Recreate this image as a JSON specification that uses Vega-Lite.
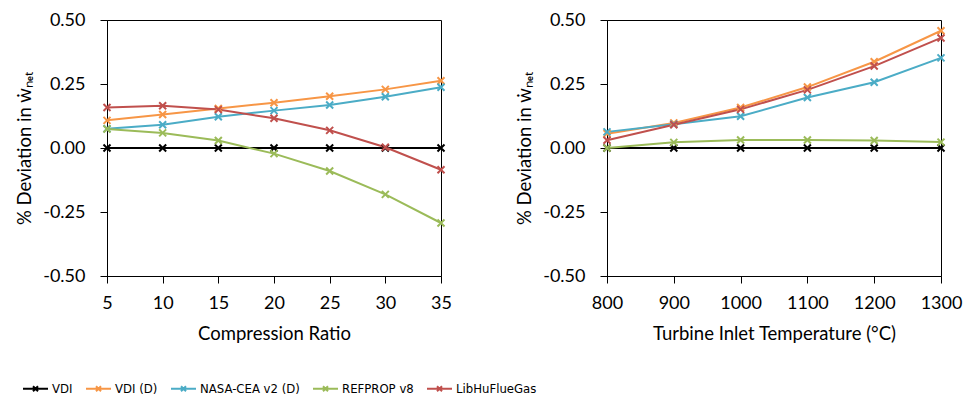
{
  "$schema": "https://vega.github.io/schema/vega-lite/v6.json",
  "padding": {"left": 15, "top": 10, "right": 5, "bottom": 5},
  "background": "white",
  "config": {
    "font": "Lato",
    "view": {"stroke": "#000000", "strokeWidth": 1},
    "axis": {
      "grid": false,
      "domainColor": "#000000",
      "tickColor": "#000000",
      "labelColor": "#000000",
      "titleColor": "#000000",
      "labelFont": "Lato",
      "titleFont": "Lato",
      "labelFontSize": 18,
      "titleFontSize": 18.5,
      "titleFontWeight": "normal",
      "tickSize": 7,
      "labelFlush": false,
      "labelOverlap": false
    },
    "axisX": {"labelPadding": 11, "titlePadding": 12},
    "axisY": {"labelPadding": 15, "titlePadding": 8},
    "legend": {"labelFont": "DejaVu Sans Condensed", "labelFontSize": 13, "labelColor": "#000000"}
  },
  "datasets": {
    "cr": [
      {"x": 5, "series": "VDI", "y": 0}, {"x": 10, "series": "VDI", "y": 0}, {"x": 15, "series": "VDI", "y": 0}, {"x": 20, "series": "VDI", "y": 0}, {"x": 25, "series": "VDI", "y": 0}, {"x": 30, "series": "VDI", "y": 0}, {"x": 35, "series": "VDI", "y": 0},
      {"x": 5, "series": "VDI (D)", "y": 0.108}, {"x": 10, "series": "VDI (D)", "y": 0.131}, {"x": 15, "series": "VDI (D)", "y": 0.154}, {"x": 20, "series": "VDI (D)", "y": 0.177}, {"x": 25, "series": "VDI (D)", "y": 0.202}, {"x": 30, "series": "VDI (D)", "y": 0.229}, {"x": 35, "series": "VDI (D)", "y": 0.263},
      {"x": 5, "series": "NASA-CEA v2 (D)", "y": 0.075}, {"x": 10, "series": "NASA-CEA v2 (D)", "y": 0.091}, {"x": 15, "series": "NASA-CEA v2 (D)", "y": 0.122}, {"x": 20, "series": "NASA-CEA v2 (D)", "y": 0.146}, {"x": 25, "series": "NASA-CEA v2 (D)", "y": 0.168}, {"x": 30, "series": "NASA-CEA v2 (D)", "y": 0.2}, {"x": 35, "series": "NASA-CEA v2 (D)", "y": 0.237},
      {"x": 5, "series": "REFPROP v8", "y": 0.074}, {"x": 10, "series": "REFPROP v8", "y": 0.059}, {"x": 15, "series": "REFPROP v8", "y": 0.029}, {"x": 20, "series": "REFPROP v8", "y": -0.022}, {"x": 25, "series": "REFPROP v8", "y": -0.09}, {"x": 30, "series": "REFPROP v8", "y": -0.181}, {"x": 35, "series": "REFPROP v8", "y": -0.293},
      {"x": 5, "series": "LibHuFlueGas", "y": 0.158}, {"x": 10, "series": "LibHuFlueGas", "y": 0.165}, {"x": 15, "series": "LibHuFlueGas", "y": 0.15}, {"x": 20, "series": "LibHuFlueGas", "y": 0.116}, {"x": 25, "series": "LibHuFlueGas", "y": 0.069}, {"x": 30, "series": "LibHuFlueGas", "y": 0.003}, {"x": 35, "series": "LibHuFlueGas", "y": -0.085}
    ],
    "tit": [
      {"x": 800, "series": "VDI", "y": 0}, {"x": 900, "series": "VDI", "y": 0}, {"x": 1000, "series": "VDI", "y": 0}, {"x": 1100, "series": "VDI", "y": 0}, {"x": 1200, "series": "VDI", "y": 0}, {"x": 1300, "series": "VDI", "y": 0},
      {"x": 800, "series": "VDI (D)", "y": 0.056}, {"x": 900, "series": "VDI (D)", "y": 0.098}, {"x": 1000, "series": "VDI (D)", "y": 0.158}, {"x": 1100, "series": "VDI (D)", "y": 0.238}, {"x": 1200, "series": "VDI (D)", "y": 0.337}, {"x": 1300, "series": "VDI (D)", "y": 0.458},
      {"x": 800, "series": "NASA-CEA v2 (D)", "y": 0.063}, {"x": 900, "series": "NASA-CEA v2 (D)", "y": 0.093}, {"x": 1000, "series": "NASA-CEA v2 (D)", "y": 0.124}, {"x": 1100, "series": "NASA-CEA v2 (D)", "y": 0.197}, {"x": 1200, "series": "NASA-CEA v2 (D)", "y": 0.257}, {"x": 1300, "series": "NASA-CEA v2 (D)", "y": 0.352},
      {"x": 800, "series": "REFPROP v8", "y": 0.0}, {"x": 900, "series": "REFPROP v8", "y": 0.022}, {"x": 1000, "series": "REFPROP v8", "y": 0.031}, {"x": 1100, "series": "REFPROP v8", "y": 0.031}, {"x": 1200, "series": "REFPROP v8", "y": 0.029}, {"x": 1300, "series": "REFPROP v8", "y": 0.023},
      {"x": 800, "series": "LibHuFlueGas", "y": 0.03}, {"x": 900, "series": "LibHuFlueGas", "y": 0.091}, {"x": 1000, "series": "LibHuFlueGas", "y": 0.151}, {"x": 1100, "series": "LibHuFlueGas", "y": 0.227}, {"x": 1200, "series": "LibHuFlueGas", "y": 0.32}, {"x": 1300, "series": "LibHuFlueGas", "y": 0.43}
    ]
  },
  "spacing": 166,
  "bounds": "flush",
  "hconcat": [
    {
      "width": 334,
      "height": 256,
      "data": {"name": "cr"},
      "mark": {"type": "line", "strokeWidth": 2, "point": {"shape": "M-1,-1L1,1M-1,1L1,-1", "filled": false, "size": 49, "strokeWidth": 2}},
      "encoding": {
        "x": {"field": "x", "type": "quantitative", "title": "Compression Ratio", "scale": {"domain": [5, 35], "nice": false, "zero": false}, "axis": {"values": [5, 10, 15, 20, 25, 30, 35], "format": "d"}},
        "y": {"field": "y", "type": "quantitative", "title": "% Deviation in ẇₙₑₜ", "scale": {"domain": [-0.5, 0.5], "nice": false}, "axis": {"values": [-0.5, -0.25, 0, 0.25, 0.5], "format": ".2f", "labelExpr": "replace(datum.label, '−', '-')"}},
        "color": {"field": "series", "type": "nominal", "sort": ["VDI", "VDI (D)", "NASA-CEA v2 (D)", "REFPROP v8", "LibHuFlueGas"], "scale": {"domain": ["VDI", "VDI (D)", "NASA-CEA v2 (D)", "REFPROP v8", "LibHuFlueGas"], "range": ["#000000", "#F79646", "#4BACC6", "#9BBB59", "#C0504D"]}, "legend": {"title": null, "orient": "none", "legendX": -85, "legendY": 355, "direction": "horizontal", "columns": 5, "columnPadding": 9, "symbolType": "M-1,0L1,0M-0.2,-0.2L0.2,0.2M-0.2,0.2L0.2,-0.2", "symbolSize": 625, "symbolStrokeWidth": 2, "labelOffset": 3}}
      }
    },
    {
      "width": 334,
      "height": 256,
      "data": {"name": "tit"},
      "mark": {"type": "line", "strokeWidth": 2, "point": {"shape": "M-1,-1L1,1M-1,1L1,-1", "filled": false, "size": 49, "strokeWidth": 2}},
      "encoding": {
        "x": {"field": "x", "type": "quantitative", "title": "Turbine Inlet Temperature (°C)", "scale": {"domain": [800, 1300], "nice": false, "zero": false}, "axis": {"values": [800, 900, 1000, 1100, 1200, 1300], "format": "d"}},
        "y": {"field": "y", "type": "quantitative", "title": "% Deviation in ẇₙₑₜ", "scale": {"domain": [-0.5, 0.5], "nice": false}, "axis": {"values": [-0.5, -0.25, 0, 0.25, 0.5], "format": ".2f", "labelExpr": "replace(datum.label, '−', '-')"}},
        "color": {"field": "series", "type": "nominal", "sort": ["VDI", "VDI (D)", "NASA-CEA v2 (D)", "REFPROP v8", "LibHuFlueGas"], "scale": {"domain": ["VDI", "VDI (D)", "NASA-CEA v2 (D)", "REFPROP v8", "LibHuFlueGas"], "range": ["#000000", "#F79646", "#4BACC6", "#9BBB59", "#C0504D"]}}
      }
    }
  ]
}
